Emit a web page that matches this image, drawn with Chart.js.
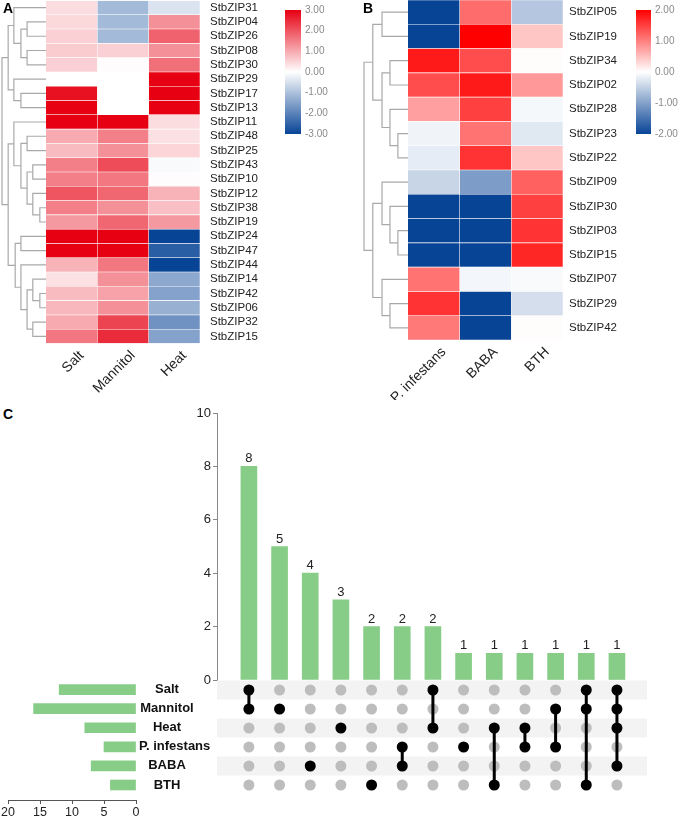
<!DOCTYPE html>
<html>
<head>
<meta charset="utf-8">
<script src="https://cdn.jsdelivr.net/npm/chart.js@4.4.1/dist/chart.umd.min.js"></script>
<style>
  body { margin: 0; background: #fff; }
  #page { position: relative; width: 680px; height: 816px; overflow: hidden; background: #fff; }
  #page canvas { position: absolute; }
  .tag { position: absolute; font: bold 14px "Liberation Sans", Arial, sans-serif; line-height: 14px; color: #000; }
</style>
</head>
<body>
<div id="page">
  <canvas id="heatA" width="340" height="400" style="left:0;top:0"></canvas>
  <canvas id="heatB" width="340" height="400" style="left:340px;top:0"></canvas>
  <canvas id="keyA" width="60" height="150" style="left:280px;top:0"></canvas>
  <canvas id="keyB" width="50" height="150" style="left:630px;top:0"></canvas>
  <canvas id="upBars" width="480" height="290" style="left:180px;top:400px"></canvas>
  <canvas id="upMatrix" width="480" height="125" style="left:180px;top:675px"></canvas>
  <canvas id="setSizes" width="230" height="141" style="left:0;top:675px"></canvas>
  <div class="tag" style="left:3px;top:1px">A</div>
  <div class="tag" style="left:363px;top:1px">B</div>
  <div class="tag" style="left:3px;top:407px">C</div>
</div>
<script>
// ---- heatmap A: abiotic stress
const genesA = ['StbZIP31','StbZIP04','StbZIP26','StbZIP08','StbZIP30','StbZIP29','StbZIP17','StbZIP13',
  'StbZIP11','StbZIP48','StbZIP25','StbZIP43','StbZIP10','StbZIP12','StbZIP38','StbZIP19',
  'StbZIP24','StbZIP47','StbZIP44','StbZIP14','StbZIP42','StbZIP06','StbZIP32','StbZIP15'];
const condsA = ['Salt', 'Mannitol', 'Heat'];
const saltA     = [0.4, 0.45, 0.55, 0.6, 0.55, 0, 2.8, 3, 3, 1.0, 0.8, 1.5, 1.5, 2.0, 1.5, 1.2, 3, 3, 0.9, 0.35, 0.8, 0.85, 1.0, 1.6];
const mannitolA = [-1.1, -1.1, -1.1, 0.55, 0.03, 0, 0, 0, 3, 1.5, 1.3, 2.1, 1.6, 1.8, 1.3, 1.8, 3, 3, 1.6, 1.3, 1.1, 1.3, 2.2, 2.5];
const heatA     = [-0.45, 1.3, 1.85, 1.3, 1.7, 3, 3, 3, 0.4, 0.35, 0.5, -0.08, 0.03, 0.9, 0.75, 1.2, -3, -2.6, -3, -1.4, -1.5, -1.25, -1.75, -1.5];
// [height, left, right]; numbers are row indexes
const treeA = [10,
  [8.6, [7.3, 0, [5.7, [4.3, 1, 2], [4.3, 3, 4]]], [7.3, 5, [5.7, 6, 7]]],
  [8.6, [7.3, 8, [5.7, [4.3, 9, 10], [4.3, [3.0, 11, 12], [3.0, 13, [1.4, 14, 15]]]]],
        [7.0, [5.7, 16, 17], [5.7, 18, [4.3, [3.0, 19, [1.4, 20, 21]], [3.0, 22, 23]]]]]];

// ---- heatmap B: biotic stress
const genesB = ['StbZIP05','StbZIP19','StbZIP34','StbZIP02','StbZIP28','StbZIP23','StbZIP22',
  'StbZIP09','StbZIP30','StbZIP03','StbZIP15','StbZIP07','StbZIP29','StbZIP42'];
const condsB = ['P. infestans', 'BABA', 'BTH'];
const pinfB = [-2, -2, 1.8, 1.4, 0.75, -0.12, -0.2, -0.45, -2, -2, -2, 1.1, 1.6, 1.05];
const babaB = [1.15, 2, 1.4, 1.8, 1.5, 1.1, 1.6, -1.05, -2, -2, -2, -0.1, -2, -2];
const bthB  = [-0.6, 0.45, 0.02, 0.8, -0.08, -0.25, 0.45, 1.25, 1.5, 1.6, 1.7, -0.05, -0.35, 0.02];
const treeB = [10,
  [8.0, [5.9, 0, 1], [5.9, [4.1, 2, 3], [4.1, 4, [2.3, 5, 6]]]],
  [8.0, [5.9, 7, [4.1, 8, [2.3, 9, 10]]], [5.9, 11, [4.1, 12, 13]]]];

// ---- upset
const setNames = ['Salt', 'Mannitol', 'Heat', 'P. infestans', 'BABA', 'BTH'];
const setSizes = [12, 16, 8, 5, 7, 4];
const interCounts = [8, 5, 4, 3, 2, 2, 2, 1, 1, 1, 1, 1, 1];
const interSets = [[0,1], [1], [4], [2], [5], [3,4], [0,2], [3], [2,5], [2,3], [1,3], [0,1,5], [0,1,2,4]];

const FONT = '"Liberation Sans", Arial, sans-serif';
const COLD = [8, 68, 150];
const HOT_A = [230, 0, 18];
const HOT_B = [255, 0, 0];
const GREEN = 'rgb(135,205,135)';

Chart.defaults.font.family = FONT;
Chart.defaults.animation = false;
Chart.defaults.responsive = false;
Chart.defaults.plugins.legend.display = false;
Chart.defaults.plugins.tooltip.enabled = false;

const rgb = c => `rgb(${c.join(',')})`;

function heatColor(v, lim, hot) {
  const t = Math.max(-1, Math.min(1, v / lim));
  const end = t >= 0 ? hot : COLD;
  const a = Math.abs(t);
  return rgb(end.map(e => Math.round(255 + (e - 255) * a)));
}

function makeDendro(tree, unit) {
  return {
    id: 'dendro',
    afterDraw(chart) {
      const { ctx, chartArea, scales: { y } } = chart;
      ctx.save();
      ctx.strokeStyle = '#a9a9a9';
      ctx.lineWidth = 1.2;
      const walk = node => {
        if (typeof node === 'number') return { x: chartArea.left, y: y.getPixelForValue(node) };
        const a = walk(node[1]), b = walk(node[2]);
        const x = chartArea.left - node[0] * unit;
        ctx.beginPath();
        ctx.moveTo(a.x, a.y); ctx.lineTo(x, a.y); ctx.lineTo(x, b.y); ctx.lineTo(b.x, b.y);
        ctx.stroke();
        return { x, y: (a.y + b.y) / 2 };
      };
      walk(tree);
      ctx.restore();
    }
  };
}

function heatmap(id, genes, conds, cols, lim, hot, tree, o) {
  const datasets = conds.map((name, j) => ({
    label: name,
    data: genes.map(() => 1),
    backgroundColor: cols[j].map(v => heatColor(v, lim, hot)),
    borderColor: 'rgba(255,255,255,0.85)',
    borderWidth: 0.6,
    barPercentage: 1,
    categoryPercentage: 1
  }));
  return new Chart(document.getElementById(id), {
    type: 'bar',
    data: { labels: genes, datasets },
    options: {
      indexAxis: 'y',
      layout: { padding: { left: o.left, top: o.top } },
      scales: {
        x: {
          stacked: true, min: 0, max: conds.length,
          grid: { display: false, drawTicks: false }, border: { display: false },
          afterBuildTicks: s => { s.ticks = conds.map((_, j) => ({ value: j + 0.5 })); },
          afterFit: s => { s.height = o.xh; },
          ticks: { callback: v => conds[Math.floor(v)], minRotation: 45, maxRotation: 45,
                   labelOffset: 10, padding: 4, color: '#222', font: { size: 14 } }
        },
        y: {
          stacked: true, position: 'right',
          grid: { display: false, drawTicks: false }, border: { display: false },
          afterFit: s => { s.width = o.yw; s.paddingTop = 0; s.paddingBottom = 0; },
          ticks: { autoSkip: false, padding: o.pad, color: '#222', font: { size: 11.5 } }
        }
      }
    },
    plugins: [makeDendro(tree, 4.4)]
  });
}

function colorKey(id, lim, hot, o) {
  return new Chart(document.getElementById(id), {
    type: 'bar',
    data: {
      labels: [''],
      datasets: [{
        data: [[-lim, lim]],
        barPercentage: 1, categoryPercentage: 1,
        backgroundColor: c => {
          const ca = c.chart.chartArea;
          if (!ca) return '#fff';
          const g = c.chart.ctx.createLinearGradient(0, ca.bottom, 0, ca.top);
          g.addColorStop(0, rgb(COLD));
          g.addColorStop(0.5, '#ffffff');
          g.addColorStop(1, rgb(hot));
          return g;
        }
      }]
    },
    options: {
      layout: { padding: { left: o.left, top: 10, bottom: 16 } },
      scales: {
        x: { display: false },
        y: {
          position: 'right', min: -lim, max: lim,
          grid: { display: false, drawTicks: false }, border: { display: false },
          afterFit: s => { s.width = o.yw; },
          ticks: { stepSize: 1, padding: 4, color: '#8a8a8a', font: { size: 10 }, callback: v => v.toFixed(2) }
        }
      }
    }
  });
}

heatmap('heatA', genesA, condsA, [saltA, mannitolA, heatA], 3, HOT_A, treeA, { left: 46, top: 0.5, xh: 56.5, yw: 140, pad: 10 });
heatmap('heatB', genesB, condsB, [pinfB, babaB, bthB], 2, HOT_B, treeB, { left: 68, top: 0, xh: 60, yw: 117, pad: 6 });
colorKey('keyA', 3, HOT_A, { left: 5, yw: 39 });
colorKey('keyB', 2, HOT_B, { left: 6, yw: 29 });

// ---- upset: intersection bars
const XMIN = -1.04, XMAX = 12.98;

const countLabels = {
  id: 'countLabels',
  afterDatasetsDraw(chart) {
    const { ctx } = chart;
    ctx.save();
    ctx.font = `13px ${FONT}`;
    ctx.fillStyle = '#222';
    ctx.textAlign = 'center';
    ctx.textBaseline = 'bottom';
    chart.getDatasetMeta(0).data.forEach((bar, i) => ctx.fillText(String(interCounts[i]), bar.x, bar.y - 1));
    ctx.restore();
  }
};

new Chart(document.getElementById('upBars'), {
  type: 'bar',
  data: { datasets: [{ data: interCounts.map((c, i) => ({ x: i, y: c })), backgroundColor: GREEN, barThickness: 16 }] },
  options: {
    layout: { padding: { top: 13, right: 13, bottom: 10 } },
    scales: {
      x: { type: 'linear', min: XMIN, max: XMAX, offset: false, display: false },
      y: {
        min: 0, max: 10,
        grid: { drawOnChartArea: false, tickLength: 4, color: '#888' },
        border: { color: '#888' },
        afterFit: s => { s.width = 37; },
        ticks: { stepSize: 2, padding: 2, color: '#222', font: { size: 13 } }
      }
    }
  },
  plugins: [countLabels]
});

// ---- upset: membership matrix
const rowBands = {
  id: 'rowBands',
  beforeDatasetsDraw(chart) {
    const { ctx, chartArea, scales: { y } } = chart;
    ctx.save();
    ctx.fillStyle = '#f3f3f3';
    setNames.forEach((_, r) => {
      if (r % 2) return;
      const t = y.getPixelForValue(r - 0.5), b = y.getPixelForValue(r + 0.5);
      ctx.fillRect(chartArea.left, t, chartArea.right - chartArea.left, b - t);
    });
    ctx.restore();
  }
};

const onDots = [], offDots = [];
interSets.forEach((sets, i) => setNames.forEach((_, s) => (sets.includes(s) ? onDots : offDots).push({ x: i, y: s })));
const links = interSets.map((sets, i) => sets.length > 1
  ? { type: 'line', data: [{ x: i, y: Math.min(...sets) }, { x: i, y: Math.max(...sets) }],
      borderColor: '#000', borderWidth: 3, pointRadius: 0 }
  : null).filter(Boolean);

new Chart(document.getElementById('upMatrix'), {
  type: 'scatter',
  data: {
    datasets: [
      { data: onDots, backgroundColor: '#000', borderWidth: 0, pointRadius: 5.5 },
      ...links,
      { data: offDots, backgroundColor: '#bdbdbd', borderWidth: 0, pointRadius: 5.5 }
    ]
  },
  options: {
    layout: { padding: { left: 37, right: 13, top: 5, bottom: 4.8 } },
    scales: {
      x: { type: 'linear', min: XMIN, max: XMAX, display: false },
      y: { type: 'linear', min: -0.5, max: 5.5, reverse: true, display: false }
    }
  },
  plugins: [rowBands]
});

// ---- upset: set sizes
const setLabels = {
  id: 'setLabels',
  afterDraw(chart) {
    const { ctx, scales: { y } } = chart;
    ctx.save();
    ctx.font = `bold 13px ${FONT}`;
    ctx.fillStyle = '#111';
    ctx.textAlign = 'center';
    ctx.textBaseline = 'middle';
    setNames.forEach((name, i) => {
      const w = ctx.measureText(name).width;
      ctx.fillText(name, Math.max(167, 139 + w / 2), y.getPixelForValue(i));
    });
    ctx.restore();
  }
};

new Chart(document.getElementById('setSizes'), {
  type: 'bar',
  data: { datasets: [{ data: setSizes.map((v, i) => ({ x: v, y: i })), backgroundColor: GREEN, barThickness: 10 }] },
  options: {
    indexAxis: 'y',
    layout: { padding: { left: 8, right: 94, top: 5 } },
    scales: {
      y: { type: 'linear', min: -0.5, max: 5.786, reverse: true, offset: false, display: false },
      x: {
        min: 0, max: 20, reverse: true,
        grid: { drawOnChartArea: false, tickLength: 4, color: '#555' },
        border: { color: '#555' },
        afterFit: s => { s.height = 16; },
        ticks: { stepSize: 5, padding: 1, color: '#222', font: { size: 12.5 } }
      }
    }
  },
  plugins: [setLabels]
});
</script>
</body>
</html>
